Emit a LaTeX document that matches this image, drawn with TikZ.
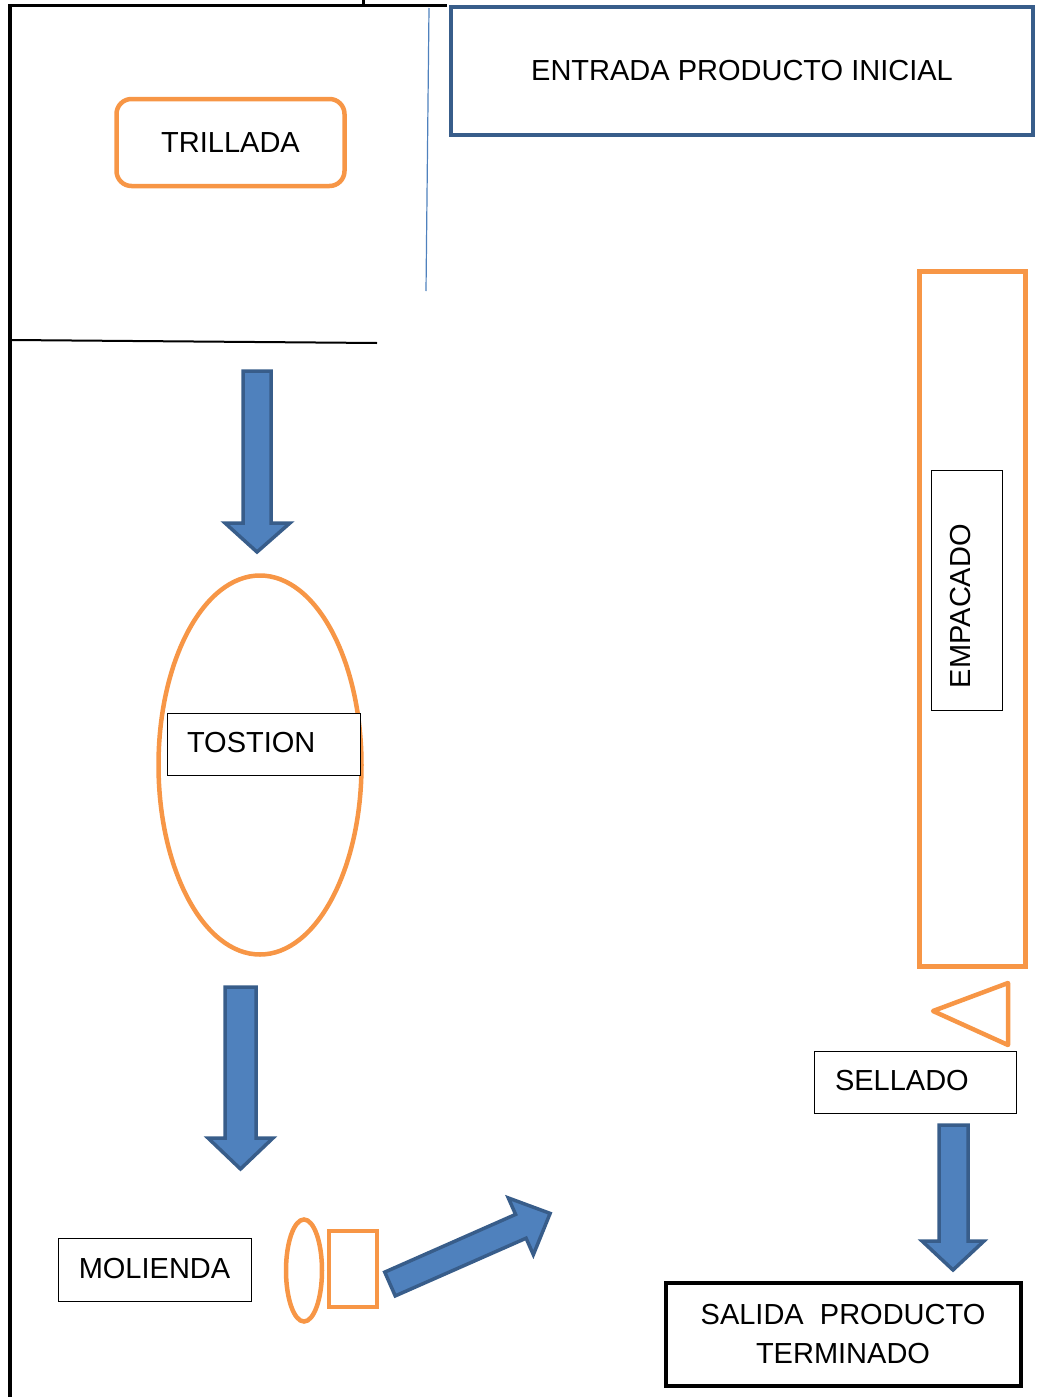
\documentclass[tikz,border=0pt]{standalone}
\usepackage{fontspec}
\setmainfont{Liberation Sans}
\usetikzlibrary{shapes.geometric}
\definecolor{orangeline}{HTML}{F79646}
\definecolor{darkblue}{HTML}{385D8A}
\definecolor{fillblue}{HTML}{4F81BD}
\newcommand{\uplbl}[2][-8.5pt]{\raisebox{#1}[0pt][0pt]{#2}}
\tikzset{
  lbl/.style={font=\fontsize{29}{35}\selectfont, text=black},
  blackbox/.style={draw=black, line width=1pt, lbl, inner sep=0pt},
  orangeshape/.style={draw=orangeline, line width=4.5pt},
  barrow/.style={draw=darkblue, fill=fillblue, line width=3.5pt, line join=miter},
  frameline/.style={draw=black, line width=3pt},
}
\begin{document}
\begin{tikzpicture}[x=1pt,y=-1pt]
\useasboundingbox (0,0) rectangle (1037,1397);
% frame lines
\draw[frameline] (8,6) -- (447,6);
\draw[frameline] (363,0) -- (363,6);
\draw[frameline, line width=3.5pt] (10,5) -- (10,1397);
\draw[black, line width=2pt] (11,340) -- (377,343);
\draw[fillblue, line width=1.2pt] (429,8) -- (426,291);
% entrada
\node[draw=darkblue, line width=4pt, minimum width=582pt, minimum height=128pt, lbl, inner sep=0pt] (entrada) at (742,71) {ENTRADA PRODUCTO INICIAL};
% trillada
\node[orangeshape, rounded corners=15pt, minimum width=228pt, minimum height=87pt, lbl, inner sep=0pt] (trillada) at (230.5,142.5) {TRILLADA};
% arrow 1
\draw[barrow] (243,371) -- (271,371) -- (271,523) -- (290,523) -- (257,552) -- (225,523) -- (243,523) -- cycle;
% tostion
\node[orangeshape, ellipse, minimum width=203pt, minimum height=379pt, inner sep=0pt] (tostionell) at (260,765) {};
\node[blackbox, fill=white, minimum width=193pt, minimum height=62pt, text width=193pt, align=left] (tostion) at (263.5,744) {\hspace*{20pt}\uplbl{TOSTION}};
% arrow 2
\draw[barrow] (225,987) -- (256,987) -- (256,1138) -- (273,1138) -- (240.5,1169) -- (208,1138) -- (225,1138) -- cycle;
% molienda
\node[blackbox, minimum width=193pt, minimum height=63pt] (molienda) at (154.5,1269.5) {\uplbl{MOLIENDA}};
\node[orangeshape, ellipse, minimum width=36pt, minimum height=102pt, inner sep=0pt] (mill) at (304,1270.5) {};
\node[orangeshape, minimum width=48pt, minimum height=76pt, inner sep=0pt] (hopper) at (353,1269) {};
% diagonal arrow
\begin{scope}[shift={(390,1284)}, rotate=23.8]
\draw[barrow] (0,-13) -- (143,-13) -- (143,-31) -- (175,0) -- (143,31) -- (143,13) -- (0,13) -- cycle;
\end{scope}
% empacado
\node[orangeshape, minimum width=106pt, minimum height=695pt, inner sep=0pt] (empacadobar) at (972.5,619) {};
\node[blackbox, minimum width=240pt, minimum height=71pt, text width=240pt, align=left, rotate=90] (empacado) at (966.5,590) {\hspace*{22pt}\uplbl[-4pt]{EMPACADO}};
% sellado triangle
\draw[orangeshape, line join=round] (1008,983) -- (933,1011) -- (1008,1045) -- cycle;
% sellado
\node[blackbox, minimum width=202pt, minimum height=62pt, text width=202pt, align=left] (sellado) at (915,1082) {\hspace*{21pt}\uplbl{SELLADO}};
% arrow 3
\draw[barrow] (939,1125) -- (968,1125) -- (968,1241) -- (984,1241) -- (953,1270) -- (922,1241) -- (939,1241) -- cycle;
% salida
\node[draw=black, line width=4pt, minimum width=355pt, minimum height=103pt, lbl, inner sep=0pt, align=center] (salida) at (843,1334) {SALIDA\ \ PRODUCTO\\[4pt]TERMINADO};
\end{tikzpicture}
\end{document}
